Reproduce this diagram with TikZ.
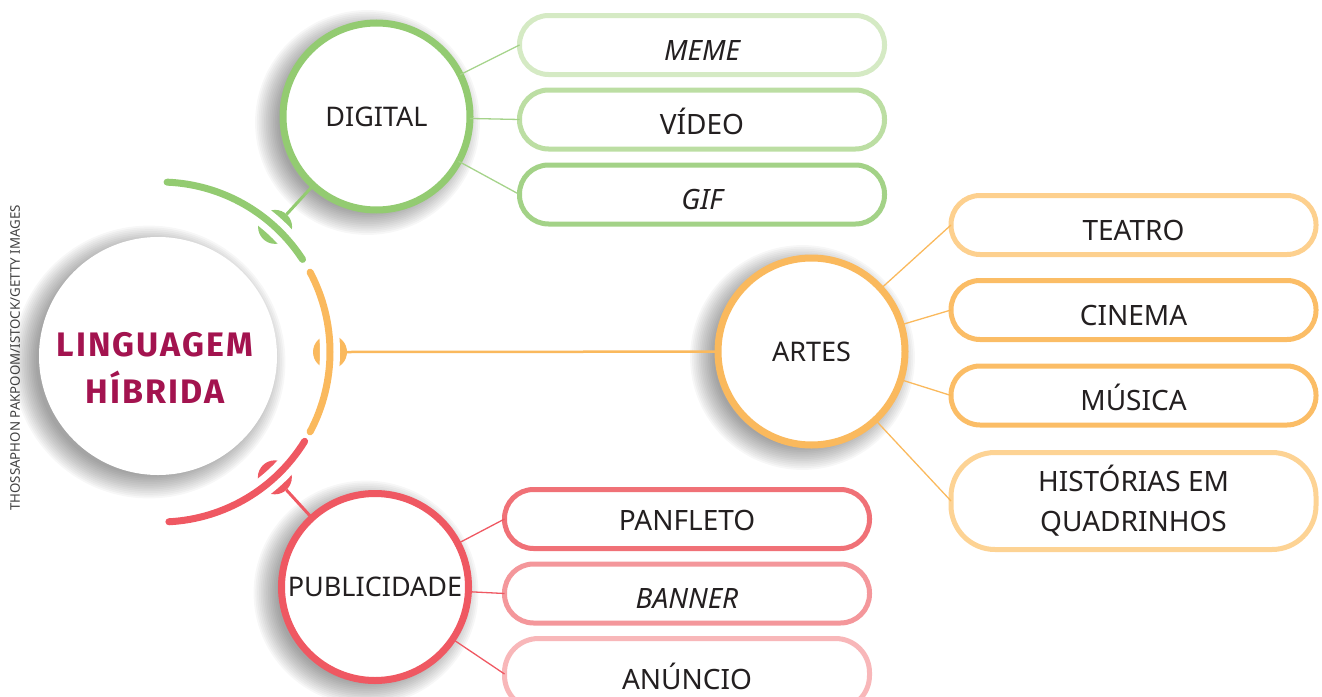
\documentclass[tikz,border=0pt]{standalone}
\usepackage{fontspec}
\setmainfont{Noto Sans}
\newfontfamily\hubfont{Fira Sans}[LetterSpace=6]
\definecolor{txt}{HTML}{231F20}
\definecolor{mag}{HTML}{A3134F}
\definecolor{gr}{HTML}{93CB71}
\definecolor{grl}{HTML}{A5D38A}
\definecolor{grA}{HTML}{D5EAC4}
\definecolor{grB}{HTML}{BCDEA3}
\definecolor{grC}{HTML}{A3D287}
\definecolor{og}{HTML}{FAB95D}
\definecolor{ogA}{HTML}{FDD08E}
\definecolor{ogB}{HTML}{FBBD66}
\definecolor{ogC}{HTML}{FDD394}
\definecolor{rd}{HTML}{EF5862}
\definecolor{rdA}{HTML}{F07177}
\definecolor{rdB}{HTML}{F4979B}
\definecolor{rdC}{HTML}{F8B7B9}
\newcommand{\mkshadow}[3]{%
  \foreach \k in {0,...,13} \fill[black, opacity=#3] (#1) ++(-9,6) circle ({#2-8+\k*1.8});}
\begin{document}
\begin{tikzpicture}[x=1pt,y=-1pt,
  every node/.style={inner sep=0pt, outer sep=0pt, text=txt},
  sat/.style={circle, draw=#1, line width=7pt, fill=white, minimum size=187pt,
    font=\fontsize{27}{32}\selectfont, text height=19pt, text depth=0pt},
  pill/.style={draw=#1, line width=5pt, fill=white, rounded corners=29pt,
    minimum width=365pt, minimum height=59pt, font=\fontsize{28}{32}\selectfont,
    text height=30pt, text depth=0pt},
  arcline/.style={line width=7pt, line cap=round},
  thinlink/.style={line width=1.3pt},
]
\useasboundingbox (0,0) rectangle (1322,696);
\coordinate (C) at (160,352);
\coordinate (Pdig) at (376.5,116.5);
\coordinate (Part) at (811.5,351.5);
\coordinate (Ppub) at (375,587);
\coordinate (Phub) at (158,356);

% credit
\node[rotate=90, font=\fontsize{13.3}{15}\selectfont, text=black!75] (credit) at (15,358) {THOSSAPHON PAKPOOM/ISTOCK/GETTY IMAGES};

% hub
\mkshadow{Phub}{121}{0.03}
\node[circle, fill=white, minimum size=238pt] (hub) at (Phub) {};
\node[font=\hubfont\bfseries\fontsize{34}{47}\selectfont, text=mag, align=center] (hubtxt) at (155,368) {LINGUAGEM\\HÍBRIDA};

% lenses
\foreach \a/\c in {-47.4/gr, 0/og, 47.5/rd} {
  \fill[\c] (C) ++(\a:170) circle (17);
  \draw[white, line width=20pt] (C) ++(\a-9:170) arc[start angle=\a-9, end angle=\a+9, radius=170];
}
% arcs
\draw[arcline, gr] (C) ++(-87.6:170) arc[start angle=-87.6, end angle=-33, radius=170];
\draw[arcline, og] (C) ++(-28:170) arc[start angle=-28, end angle=28, radius=170];
\draw[arcline, rd] (C) ++(31.7:170) arc[start angle=31.7, end angle=87, radius=170];
\path (C) ++(-47.4:187) coordinate (lg);
\path (C) ++(0:187) coordinate (lo);
\path (C) ++(47.5:187) coordinate (lr);

% satellites
\mkshadow{Pdig}{97}{0.03}
\mkshadow{Part}{97}{0.03}
\mkshadow{Ppub}{97}{0.03}
\node[sat=gr] (dig) at (Pdig) {DIGITAL};
\node[sat=og] (art) at (Part) {ARTES};
\node[sat=rd] (pub) at (Ppub) {PUBLICIDADE};

\draw[gr, line width=3pt] (lg) -- (dig);
\draw[og, line width=2.5pt] (lo) -- (art);
\draw[rd, line width=3pt] (lr) -- (pub);

% pills
\node[pill=grA] (meme) at (702,45) {\itshape MEME};
\node[pill=grB] (video) at (702,119.5) {VÍDEO};
\node[pill=grC] (gif) at (702,194.5) {\itshape GIF};

\node[pill=ogA] (teatro) at (1133.5,225) {TEATRO};
\node[pill=ogB] (cinema) at (1133.5,310) {CINEMA};
\node[pill=ogB] (musica) at (1133.5,395.5) {MÚSICA};
\node[pill=ogC, minimum height=97pt, rounded corners=44pt, text height=, text depth=, align=center, font=\fontsize{28}{40}\selectfont] (hq) at (1133.5,501) {HISTÓRIAS EM\\QUADRINHOS};

\node[pill=rdA, text height=22pt] (panf) at (687,519) {PANFLETO};
\node[pill=rdB] (banner) at (687,593.5) {\itshape BANNER};
\node[pill=rdC, minimum height=71pt, rounded corners=34pt] (anun) at (687,674) {ANÚNCIO};

% links
\foreach \p in {meme,video,gif} \draw[grl, thinlink] (dig) -- (\p.west);
\foreach \p in {teatro,cinema,musica,hq} \draw[og, thinlink] (art) -- (\p.west);
\foreach \p in {panf,banner,anun} \draw[rd, thinlink] (pub) -- (\p.west);
\end{tikzpicture}
\end{document}
